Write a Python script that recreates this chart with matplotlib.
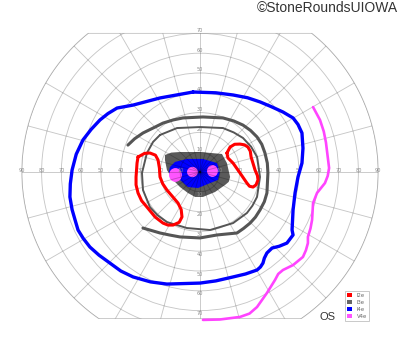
import numpy as np
import matplotlib
matplotlib.use("Agg")
import matplotlib.pyplot as plt
from matplotlib.patches import Circle, Polygon, Ellipse, Patch

# =============================================================================
# Datos: coordenadas en grados (x: izquierda/derecha, y: superior/inferior)
# =============================================================================

# I4e (azul), contorno cerrado
i4e_x = [-3.5, 8.0, 16.7, 24.0, 30.3, 36.0, 41.9, 47.0, 49.5, 51.5, 52.0, 51.5,
         49.5, 48.0, 47.0, 46.5, 47.0, 43.9, 40.0, 36.4, 33.8, 32.5, 31.8, 30.5,
         28.8, 23.0, 16.7, 8.0, 0.0, -16.7, -25.0, -33.8, -40.0, -45.5, -51.0,
         -55.6, -59.0, -61.6, -63.1, -64.6, -65.7, -65.5, -64.6, -62.5, -59.1,
         -55.0, -50.5, -46.5, -41.9, -33.8, -20.2]
i4e_y = [40.4, 40.0, 38.9, 37.5, 35.4, 33.0, 30.3, 27.3, 24.0, 19.7, 12.0, 4.5,
         -2.5, -10.6, -19.2, -29.3, -31.8, -35.9, -37.5, -38.4, -40.9, -43.5, -46.0, -48.0,
         -49.5, -51.5, -53.0, -55.0, -56.1, -56.6, -55.5, -53.0, -50.0, -46.0, -42.0,
         -37.9, -33.5, -29.3, -24.2, -19.0, -12.6, -6.0, 1.0, 9.0, 16.2,
         21.5, 26.3, 29.5, 32.3, 33.8, 37.4]

# V4e (magenta), abierto
v4e_x = [57.1, 60.6, 62.5, 63.6, 65.2, 64.5, 63.1, 59.1, 57.1, 56.6, 55.8, 54.5,
         54.5, 53.5, 52.0, 47.0, 41.9, 39.5, 37.9, 33.8, 28.8, 25.0, 20.2, 10.0, 1.5]
v4e_y = [32.8, 26.3, 20.5, 15.0, 2.0, -2.0, -5.6, -10.6, -15.7, -24.2, -28.5, -32.8,
         -35.9, -39.5, -42.9, -47.0, -49.5, -51.5, -54.5, -61.1, -68.2, -71.5, -73.2,
         -74.5, -74.7]

# I3e (gris), trazo exterior abierto
i3e_out_x = [-36.4, -33.0, -28.8, -23.5, -18.7, -13.5, -8.6, 1.5, 11.6, 17.0, 21.7,
             25.5, 28.8, 31.2, 32.8, 34.0, 34.3, 33.8, 32.5, 30.3, 28.0, 25.3, 22.0,
             18.7, 8.6, 0.0, -10.1, -15.5, -20.2, -28.8]
i3e_out_y = [13.6, 16.8, 19.7, 22.3, 24.7, 26.3, 27.3, 27.8, 27.3, 25.8, 23.7,
             21.0, 17.7, 14.0, 9.6, 4.5, -0.5, -10.6, -15.0, -19.2, -22.8, -25.8, -28.5,
             -30.8, -31.8, -33.3, -32.8, -31.8, -30.8, -28.3]

# I3e (gris), trazo interior cerrado
i3e_in_x = [-20.2, -11.6, 0.0, 11.6, 17.0, 21.7, 25.8, 28.8, 30.3, 28.8, 26.5, 23.7,
            16.7, 5.1, -6.6, -16.7, -21.5, -25.3, -28.8, -29.3, -26.8, -23.7]
i3e_in_y = [18.7, 22.2, 22.7, 22.2, 20.0, 17.2, 12.8, 7.6, -2.5, -12.6, -17.0, -20.7,
            -25.8, -29.3, -28.3, -25.3, -21.8, -17.7, -9.1, -0.5, 9.6, 15.2]

# I2e (rojo), dos islas cerradas
i2e_left_x = [-31.3, -28.0, -25.3, -22.5, -21.2, -20.5, -20.2, -18.8, -16.7, -13.8,
              -11.1, -9.5, -9.1, -10.5, -13.6, -16.2, -18.7, -22.7, -26.8, -29.5,
              -31.3, -32.3, -32.3, -31.8]
i2e_left_y = [7.6, 9.4, 9.6, 8.5, 6.1, 2.0, -2.5, -6.0, -9.1, -12.5, -15.7, -19.0,
              -22.7, -25.4, -26.8, -26.8, -25.8, -22.7, -17.7, -14.5, -10.6, -6.5,
              -2.5, 4.5]
i2e_right_x = [13.6, 15.2, 17.5, 20.2, 22.5, 24.2, 25.4, 25.8, 27.8, 29.0, 29.3,
               28.3, 26.8, 25.0, 23.7, 20.2, 16.7, 14.1]
i2e_right_y = [9.6, 12.6, 14.0, 14.1, 13.7, 12.6, 10.5, 7.6, 1.0, -1.8, -4.0,
               -6.5, -7.6, -7.2, -5.6, -0.5, 4.5, 7.1]

# Zonas centrales rellenas
gris_x = [-17.7, -14.5, -10.1, 0.0, 11.1, 13.6, 15.2, 14.5, 12.6, 7.6, 1.5, -2.5,
          -6.1, -10.1, -13.6, -16.7, -17.7]
gris_y = [8.6, 9.8, 10.1, 10.1, 9.1, 4.5, -2.5, -5.0, -6.6, -10.1, -12.6, -12.6,
          -10.6, -7.6, -4.0, 1.0, 6.1]
azul_x = [-15.2, -12.6, -6.6, 1.5, 8.6, 10.1, 9.1, 5.1, -1.0, -6.1, -10.1, -14.1, -15.7]
azul_y = [2.5, 5.1, 6.6, 6.6, 4.5, 0.0, -4.0, -5.6, -8.1, -7.6, -4.0, -2.5, 0.0]
magenta_cx = [-12.4, -3.8, 6.3]
magenta_cy = [-1.5, 0.0, 0.5]
magenta_w = [6.5, 5.5, 5.5]
magenta_h = [7.0, 5.2, 6.0]

# Rejilla
radios = list(range(10, 100, 10))
meridianos = list(range(0, 360, 15))
etiquetas_h = [10, 20, 30, 40, 50, 60, 70, 80, 90]
etiquetas_v = [10, 20, 30, 40, 50, 60, 70]
limite_sup = 70
limite_inf = -74

leyenda_nombres = ["I2e", "I3e", "I4e", "V4e"]
leyenda_colores = ["#ff0000", "#666666", "#0000ff", "#ff55ff"]

# =============================================================================
# Figura
# =============================================================================

escala = 1.98  # px por grado
fig = plt.figure(figsize=(4, 3.52), dpi=100)
ax = fig.add_axes([0, 0, 1, 1])
ax.set_xlim(-200 / escala, 200 / escala)
ax.set_ylim(-180 / escala, 172 / escala)
ax.set_aspect("equal")
ax.axis("off")

# Contorno del campo: circulo de 90 recortado arriba y abajo
t_sup = np.degrees(np.arcsin(limite_sup / 90.0))
t_inf = np.degrees(np.arcsin(limite_inf / 90.0))
ang_der = np.radians(np.linspace(t_sup, t_inf, 100))
ang_izq = np.radians(np.linspace(180 - t_inf, 180 - t_sup, 100))
borde = np.vstack([
    np.column_stack([90 * np.cos(ang_der), 90 * np.sin(ang_der)]),
    np.column_stack([90 * np.cos(ang_izq), 90 * np.sin(ang_izq)]),
])
color_rejilla = (0, 0, 0, 0.22)
recorte = Polygon(borde, closed=True, fill=False, edgecolor=color_rejilla,
                  linewidth=0.65, zorder=2)
ax.add_patch(recorte)

for r in radios:
    c = Circle((0, 0), r, fill=False, edgecolor=color_rejilla, linewidth=0.65, zorder=2)
    ax.add_patch(c)
    c.set_clip_path(recorte)

for m in meridianos:
    a = np.radians(m)
    ln, = ax.plot([0, 90 * np.cos(a)], [0, 90 * np.sin(a)], color=color_rejilla,
                  linewidth=0.65, zorder=2)
    ln.set_clip_path(recorte)

# Etiquetas de la rejilla
estilo = dict(fontsize=3.6, color="#8a8a8a", ha="center", zorder=2.5)
for r in etiquetas_h:
    ax.text(r, 0.6, str(r), va="center", **estilo)
    ax.text(-r, 0.6, str(r), va="center", **estilo)
for r in etiquetas_v:
    ax.text(0, r + 0.3, str(r), va="bottom", **estilo)
    ax.text(0, -r - 0.3, str(r), va="top", **estilo)

# Zonas rellenas
ax.fill(gris_x, gris_y, color="#5a5a5a", zorder=1, linewidth=0)
ax.fill(azul_x, azul_y, color="#0000ff", zorder=1.1, linewidth=0)
for cx, cy, w, h in zip(magenta_cx, magenta_cy, magenta_w, magenta_h):
    ax.add_patch(Ellipse((cx, cy), w, h, color="#ff55ff", zorder=1.2, linewidth=0))

# Isopteras
def cerrar(xs, ys):
    return xs + xs[:1], ys + ys[:1]

linea = dict(solid_joinstyle="round", solid_capstyle="round", zorder=3)
ax.plot(*cerrar(i4e_x, i4e_y), color="#0000ff", linewidth=2.4, **linea)
ax.plot(v4e_x, v4e_y, color="#ff44ff", linewidth=1.9, **linea)
ax.plot(i3e_out_x, i3e_out_y, color="#555555", linewidth=2.2, **linea)
ax.plot(*cerrar(i3e_in_x, i3e_in_y), color="#555555", linewidth=1.4, **linea)
ax.plot(*cerrar(i2e_left_x, i2e_left_y), color="#ff0000", linewidth=2.2, **linea)
ax.plot(*cerrar(i2e_right_x, i2e_right_y), color="#ff0000", linewidth=2.2, **linea)

# Textos
fig.text(0.995, 0.977, "\u00a9StoneRoundsUIOWA", ha="right", va="center",
         fontsize=10, family="Liberation Sans", color="#333333")
fig.text(328 / 400, 1 - 317 / 352, "OS", ha="center", va="center",
         fontsize=8, family="Liberation Sans", color="#333333")

# Leyenda
handles = [Patch(facecolor=c, edgecolor="none", label=n)
           for n, c in zip(leyenda_nombres, leyenda_colores)]
leg = fig.legend(handles=handles, loc="lower left", bbox_to_anchor=(345 / 400, 31 / 352),
                 fontsize=3.8, frameon=True, fancybox=False, handlelength=1.0,
                 handleheight=1.0, handletextpad=0.8, labelspacing=0.35,
                 borderpad=0.4, borderaxespad=0)
leg.get_frame().set_edgecolor("#bbbbbb")
leg.get_frame().set_linewidth(0.7)
for t in leg.get_texts():
    t.set_color("#666666")

fig.savefig("out.png", dpi=100)
